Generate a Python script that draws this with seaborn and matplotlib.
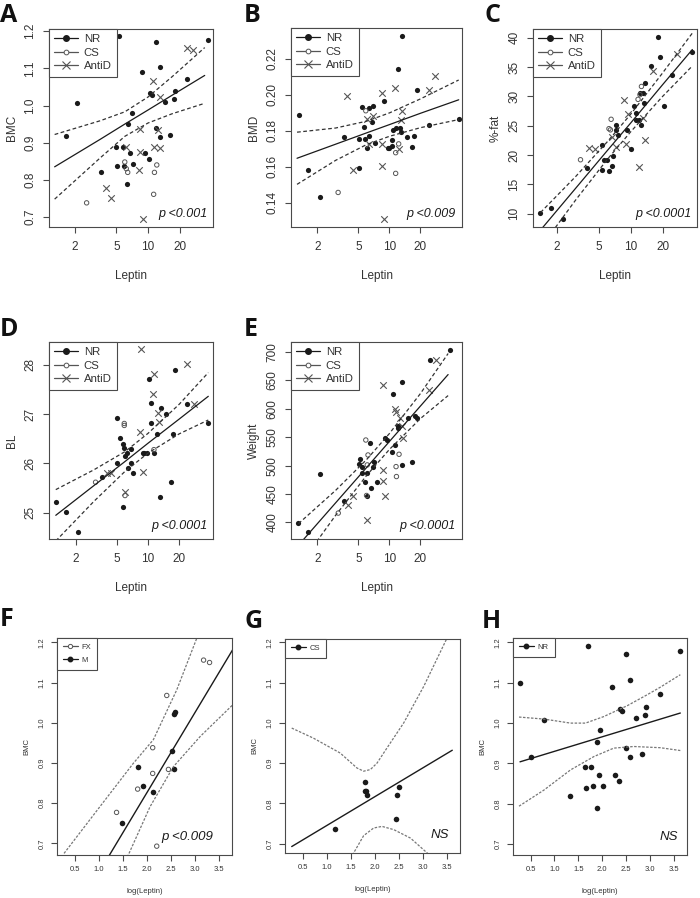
import matplotlib
matplotlib.use("Agg")
import matplotlib.pyplot as plt
from matplotlib.lines import Line2D
from matplotlib.ticker import NullLocator
import seaborn as sns

# ---------------- Panel A : BMC vs Leptin ----------------
a_nr_lep = [1.64, 2.10, 5.29, 12.0, 13.1, 8.8, 10.5, 10.8, 14.6, 18.2, 17.5, 23.5, 37.2, 7.0,
            6.4, 11.9, 13.0, 16.3, 3.6, 5.1, 5.0, 5.8, 6.8, 9.4, 7.2, 10.3, 5.9, 6.3]
a_nr_val = [0.918, 1.006, 1.186, 1.170, 1.105, 1.090, 1.035, 1.029, 1.009, 1.039, 1.017, 1.071,
            1.176, 0.979, 0.950, 0.939, 0.914, 0.920, 0.821, 0.838, 0.889, 0.889, 0.871, 0.871,
            0.842, 0.855, 0.838, 0.788]
a_cs_lep = [2.6, 6.0, 6.2, 6.4, 11.3, 11.5, 12.1]
a_cs_val = [0.738, 0.848, 0.830, 0.820, 0.761, 0.820, 0.840]
a_ad_lep = [3.95, 4.4, 8.9, 8.2, 8.3, 6.2, 8.3, 11.3, 12.9, 12.3, 11.2, 12.9, 23.5, 26.8]
a_ad_val = [0.778, 0.751, 0.695, 0.826, 0.876, 0.889, 0.936, 0.889, 0.886, 0.934, 1.067, 1.024,
            1.155, 1.149]
a_fit_lep = [1.29, 3.5, 6, 10, 17, 34.6]
a_fit = [0.835, 0.909, 0.950, 0.988, 1.028, 1.081]
a_upper = [0.922, 0.959, 0.983, 1.023, 1.078, 1.156]
a_lower = [0.748, 0.859, 0.917, 0.953, 0.978, 1.006]

# ---------------- Panel B : BMD vs Leptin ----------------
b_nr_lep = [1.33, 1.64, 2.12, 3.60, 5.05, 5.1, 5.40, 5.73, 5.8, 6.03, 6.4, 6.4, 6.73, 6.98, 7.3,
            8.91, 9.59, 9.9, 10.5, 10.7, 10.9, 11.5, 12.1, 12.6, 13.2, 12.9, 14.9, 16.4, 17.5,
            18.4, 24.0, 47.0]
b_nr_val = [0.1884, 0.1579, 0.1428, 0.1763, 0.1593, 0.1752, 0.1930, 0.1822, 0.1752, 0.1705,
            0.1770, 0.1925, 0.1847, 0.1938, 0.1729, 0.1966, 0.1701, 0.1705, 0.1748, 0.1714,
            0.1804, 0.1813, 0.2142, 0.1813, 0.2325, 0.1791, 0.1763, 0.1711, 0.1768, 0.2025,
            0.1830, 0.1867]
b_cs_lep = [3.18, 5.9, 11.5, 11.5, 12.3]
b_cs_val = [0.1456, 0.1910, 0.1677, 0.1562, 0.1726]
b_ad_lep = [3.88, 4.43, 6.0, 6.3, 6.9, 8.4, 8.4, 8.5, 8.9, 11.3, 12.3, 13.1, 12.9, 24.0, 27.5]
b_ad_val = [0.1990, 0.1580, 0.1865, 0.1726, 0.1880, 0.2008, 0.1603, 0.1726, 0.1309, 0.2036,
            0.1698, 0.1910, 0.1856, 0.2023, 0.2101]
b_fit_lep = [1.27, 3, 6, 10, 20, 47]
b_fit = [0.1646, 0.1724, 0.1787, 0.1833, 0.1896, 0.1971]
b_upper = [0.1791, 0.1814, 0.1852, 0.1898, 0.1976, 0.2081]
b_lower = [0.1501, 0.1634, 0.1722, 0.1768, 0.1816, 0.1861]

# ---------------- Panel C : %-fat vs Leptin ----------------
c_nr_lep = [1.39, 1.73, 2.25, 3.80, 5.27, 5.38, 5.58, 5.97, 6.23, 6.65, 6.7, 7.2, 7.16, 7.59,
            9.24, 9.93, 10.7, 11.2, 11.3, 11.9, 12.6, 12.2, 12.9, 13.6, 13.4, 15.4, 18.2, 18.9,
            20.7, 24.7, 38.3]
c_nr_val = [10.2, 10.9, 9.1, 17.8, 21.8, 17.4, 19.2, 19.2, 17.2, 18.1, 19.8, 25.2, 24.3, 23.5,
            24.2, 21.0, 28.4, 26.0, 27.2, 25.9, 25.2, 30.5, 30.6, 32.3, 28.8, 35.2, 40.1, 36.8,
            28.3, 33.6, 37.6]
c_cs_lep = [3.33, 6.2, 6.4, 6.5, 12.2, 12.6, 11.7]
c_cs_val = [19.2, 24.5, 24.3, 26.1, 30.3, 31.7, 29.5]
c_ad_lep = [4.03, 4.55, 7.3, 8.6, 8.9, 9.3, 11.9, 13.6, 16.1, 27.2, 12.9, 6.6]
c_ad_val = [21.2, 21.1, 21.4, 29.4, 21.9, 27.0, 18.0, 22.5, 34.3, 37.3, 26.3, 23.1]
c_fit_lep = [1.39, 3, 6, 10, 20, 38.3]
c_fit = [7.2, 14.35, 20.8, 25.5, 32.0, 38.0]
c_upper = [10.2, 16.35, 22.3, 27.0, 34.0, 40.8]
c_lower = [4.2, 12.35, 19.3, 24.0, 30.0, 35.2]

# ---------------- Panel D : BL vs Leptin ----------------
d_nr_lep = [1.29, 1.61, 2.09, 3.56, 4.97, 4.97, 5.35, 5.7, 5.9, 5.7, 6.02, 6.3, 6.44, 6.8, 6.9,
            7.2, 8.86, 9.2, 9.7, 10.3, 10.8, 10.6, 11.4, 12.1, 13.0, 13.3, 14.8, 16.5, 17.5,
            18.4, 23.9, 38.1]
d_nr_val = [25.22, 25.02, 24.62, 25.72, 26.01, 26.92, 26.52, 26.40, 26.31, 25.12, 26.15, 26.21,
            25.91, 26.01, 26.30, 25.81, 26.21, 26.21, 26.21, 27.71, 27.22, 26.81, 26.21, 26.60,
            25.32, 27.12, 27.00, 25.62, 26.60, 27.90, 27.21, 26.81]
d_cs_lep = [3.12, 5.9, 5.9, 6.0, 11.4]
d_cs_val = [25.62, 26.81, 26.77, 25.35, 26.28]
d_ad_lep = [3.98, 4.4, 6.0, 8.36, 8.5, 9.0, 11.4, 11.2, 12.4, 12.8, 23.9, 27.8]
d_ad_val = [25.81, 25.80, 25.42, 26.63, 28.32, 25.82, 27.82, 27.41, 27.02, 26.83, 28.01, 27.21]
d_fit_lep = [1.29, 3, 6, 10, 20, 38.1]
d_fit = [24.95, 25.55, 26.04, 26.41, 26.90, 27.36]
d_upper = [25.47, 25.87, 26.24, 26.61, 27.20, 27.84]
d_lower = [24.43, 25.23, 25.84, 26.21, 26.60, 26.88]

# ---------------- Panel E : Weight vs Leptin ----------------
e_nr_lep = [1.31, 1.64, 2.12, 3.65, 5.17, 5.10, 5.37, 5.40, 5.78, 6.0, 6.1, 6.47, 6.6, 6.97, 7.1,
            7.5, 9.03, 9.5, 10.6, 10.8, 11.3, 12.1, 12.2, 13.3, 13.1, 15.2, 16.7, 17.9, 18.7,
            24.6, 38.4]
e_nr_val = [398.8, 383.0, 484.8, 436.8, 511.1, 502.9, 486.5, 497.1, 470.8, 486.5, 445.6, 540.3,
            461.4, 497.1, 506.4, 471.9, 548.0, 545.0, 524.6, 625.7, 536.3, 566.7, 569.6, 647.4,
            501.2, 583.0, 505.8, 587.1, 583.0, 685.4, 702.9]
e_cs_lep = [3.19, 5.9, 6.2, 6.1, 6.0, 11.6, 11.7, 12.4]
e_cs_val = [416.4, 545.0, 518.7, 501.2, 447.4, 498.2, 480.7, 519.9]
e_ad_lep = [3.99, 4.4, 6.1, 8.57, 8.57, 9.0, 8.6, 11.3, 11.6, 12.6, 13.1, 13.4, 24.2, 28.1]
e_ad_val = [429.8, 445.6, 404.7, 492.4, 473.1, 446.8, 641.5, 598.8, 593.6, 583.0, 569.6, 548.0,
            632.7, 685.4]
e_fit_lep = [1.31, 3, 6, 10, 20, 37.1]
e_fit = [359.7, 434.2, 496.5, 542.4, 604.8, 660.2]
e_upper = [397.7, 456.2, 510.5, 556.4, 626.8, 697.2]
e_lower = [321.7, 412.2, 482.5, 528.4, 582.8, 623.2]

# ---------------- Panel F : BMC vs log(Leptin), FX / M ----------------
f_fx_x = [1.372, 1.812, 2.126, 2.126, 2.419, 2.454, 2.21, 3.187, 3.312]
f_fx_y = [0.777, 0.835, 0.938, 0.874, 1.068, 0.884, 0.693, 1.156, 1.150]
f_m_x = [1.491, 1.826, 1.931, 2.14, 2.524, 2.566, 2.573, 2.60]
f_m_y = [0.751, 0.891, 0.843, 0.827, 0.931, 0.884, 1.022, 1.026]
f_fit_x = [1.2, 3.815]
f_fit_y = [0.666, 1.186]
f_upper_x = [0.277, 1.023, 1.721, 2.14, 2.628, 3.047, 3.3]
f_upper_y = [0.675, 0.791, 0.899, 0.958, 1.082, 1.211, 1.30]
f_lower_x = [1.45, 1.617, 2.07, 2.559, 3.117, 3.815]
f_lower_y = [0.63, 0.671, 0.791, 0.891, 0.966, 1.047]

# ---------------- Panel G : BMC vs log(Leptin), CS ----------------
g_cs_x = [1.163, 1.791, 1.791, 1.812, 1.84, 2.447, 2.468, 2.517]
g_cs_y = [0.737, 0.854, 0.830, 0.832, 0.822, 0.761, 0.822, 0.840]
g_fit_x = [0.27, 3.619]
g_fit_y = [0.693, 0.932]
g_upper_x = [0.27, 0.723, 1.282, 1.63, 1.77, 1.91, 2.049, 2.259, 2.607, 3.026, 3.50, 3.6]
g_upper_y = [0.987, 0.962, 0.925, 0.888, 0.880, 0.884, 0.900, 0.938, 1.0, 1.091, 1.208, 1.23]
g_lower_x = [1.45, 1.561, 1.77, 1.979, 2.154, 2.398, 2.747, 3.096, 3.2]
g_lower_y = [0.655, 0.677, 0.720, 0.739, 0.743, 0.735, 0.714, 0.677, 0.665]

# ---------------- Panel H : BMC vs log(Leptin), NR ----------------
h_nr_x = [0.277, 0.5, 0.779, 1.323, 1.631, 1.665, 1.70, 1.756, 1.805, 1.882, 1.882, 1.93, 1.965,
          2.014, 2.21, 2.28, 2.363, 2.384, 2.42, 2.496, 2.503, 2.594, 2.594, 2.712, 2.894, 2.928,
          2.838, 3.208, 3.64]
h_nr_y = [1.099, 0.917, 1.008, 0.819, 0.892, 0.838, 1.190, 0.892, 0.844, 0.952, 0.789, 0.871,
          0.984, 0.844, 1.089, 0.871, 0.856, 1.034, 1.029, 0.939, 1.172, 1.107, 0.915, 1.012,
          1.020, 1.039, 0.924, 1.073, 1.178]
h_fit_x = [0.277, 3.64]
h_fit_y = [0.904, 1.025]
h_upper_x = [0.256, 0.779, 1.337, 1.65, 2.03, 2.524, 2.94, 3.22, 3.64]
h_upper_y = [1.015, 1.01, 1.0, 1.0, 1.016, 1.043, 1.07, 1.089, 1.12]
h_lower_x = [0.256, 0.779, 1.337, 1.826, 2.245, 2.663, 3.22, 3.64]
h_lower_y = [0.794, 0.834, 0.884, 0.917, 0.938, 0.942, 0.939, 0.932]

leptin_ticks = [2, 5, 10, 20]
log_ticks = [0.5, 1.0, 1.5, 2.0, 2.5, 3.0, 3.5]
bmc_ticks = [0.7, 0.8, 0.9, 1.0, 1.1, 1.2]

INK = "#1a1a1a"
GREY = "#555555"
FRAME = "#4a4a4a"
TXT = "#333333"

sns.set_style("white")
plt.rcParams["font.family"] = ["Liberation Sans", "DejaVu Sans"]


def r_frame(ax, size, xpad, ypad):
    for s in ax.spines.values():
        s.set_visible(True)
        s.set_color(FRAME)
        s.set_linewidth(0.8)
    ax.tick_params(direction="out", length=4, width=0.8, color=FRAME,
                   labelcolor=TXT, labelsize=size, bottom=True, left=True)
    ax.tick_params(axis="x", pad=xpad)
    ax.tick_params(axis="y", pad=ypad, labelrotation=90)
    for lab in ax.get_yticklabels():
        lab.set_va("center")


def points(ax, x, y, kind, s_big=14):
    if kind == "filled":
        sns.scatterplot(x=x, y=y, ax=ax, color=INK, marker="o", s=s_big, linewidth=0)
    elif kind == "open":
        sns.scatterplot(x=x, y=y, ax=ax, color=GREY, marker="o", s=10, linewidth=0.7)
        ax.collections[-1].set_facecolor("none")
        ax.collections[-1].set_edgecolor(GREY)
    else:
        sns.scatterplot(x=x, y=y, ax=ax, color=GREY, marker="x", s=22, linewidth=0.8)


def handle(kind, ms):
    if kind == "filled":
        return Line2D([], [], color=INK, marker="o", markersize=ms, markerfacecolor=INK, lw=0.9)
    if kind == "open":
        return Line2D([], [], color=GREY, marker="o", markersize=ms * 0.85,
                      markerfacecolor="white", markeredgewidth=0.7, lw=0.9)
    return Line2D([], [], color=GREY, marker="x", markersize=ms * 1.3, lw=0.9, markeredgewidth=0.8)


def boxed_legend(ax, handles, labels, size, hl, pad, spacing):
    leg = ax.legend(handles, labels, loc="upper left", bbox_to_anchor=(0, 1), borderaxespad=0,
                    fontsize=size, handlelength=hl, handletextpad=0.5, labelspacing=spacing,
                    borderpad=pad, fancybox=False, framealpha=1, edgecolor=FRAME, numpoints=1)
    leg.get_frame().set_linewidth(0.8)
    for t in leg.get_texts():
        t.set_color(TXT)


def leptin_panel(ax, groups, fit_lep, fit, upper, lower, xlim, ylim, yticks, ylabels,
                 ylabel, ptext):
    for x, y, kind in groups:
        points(ax, x, y, kind)
    sns.lineplot(x=fit_lep, y=fit, ax=ax, color=INK, linewidth=0.9)
    for band in (upper, lower):
        sns.lineplot(x=fit_lep, y=band, ax=ax, color="#333333", linewidth=0.9,
                     linestyle=(0, (3, 2)))
    ax.set_xscale("log")
    ax.set_xlim(*xlim)
    ax.set_ylim(*ylim)
    ax.set_xticks(leptin_ticks)
    ax.set_xticklabels([str(t) for t in leptin_ticks])
    ax.xaxis.set_minor_locator(NullLocator())
    ax.set_yticks(yticks)
    ax.set_yticklabels(ylabels)
    r_frame(ax, 8.5, 6, 5)
    ax.set_xlabel("Leptin", fontsize=8.5, color=TXT, labelpad=12)
    ax.set_ylabel(ylabel, fontsize=8.5, color=TXT, labelpad=5)
    boxed_legend(ax, [handle("filled", 4), handle("open", 4), handle("x", 4)],
                 ["NR", "CS", "AntiD"], 8.2, 2.1, 0.45, 0.32)
    ax.text(0.965, 0.035, ptext, transform=ax.transAxes, ha="right", va="bottom",
            fontsize=9, style="italic", color=INK)


def log_panel(ax, groups, labels, fit_x, fit_y, upper, lower, ylim, ptext, px):
    for x, y, kind in groups:
        points(ax, x, y, kind, s_big=16)
    sns.lineplot(x=fit_x, y=fit_y, ax=ax, color=INK, linewidth=1.0)
    for bx, by in (upper, lower):
        sns.lineplot(x=bx, y=by, ax=ax, color="#777777", linewidth=0.9, linestyle=(0, (2, 1.2)))
    ax.set_xlim(0.13, 3.78)
    ax.set_ylim(*ylim)
    ax.set_xticks(log_ticks)
    ax.set_xticklabels([f"{t:.1f}" for t in log_ticks])
    ax.set_yticks(bmc_ticks)
    ax.set_yticklabels([f"{t:.1f}" for t in bmc_ticks])
    r_frame(ax, 5.5, 4, 4)
    ax.set_xlabel("log(Leptin)", fontsize=5.5, color=TXT, labelpad=11)
    ax.set_ylabel("BMC", fontsize=5.5, color=TXT, labelpad=6)
    boxed_legend(ax, [handle(kind, 3.2) if kind != "open" else handle("open", 3.6)
                      for _, _, kind in groups], labels, 5.5, 2.0, 0.75, 0.7)
    ax.text(px, 0.055, ptext, transform=ax.transAxes, ha="right", va="bottom",
            fontsize=9.5, style="italic", color=INK)


fig = plt.figure(figsize=(7, 8.98), dpi=100)
W, H = 700.0, 898.0


def axes_px(left, right, top, bottom):
    return fig.add_axes([left / W, 1 - bottom / H, (right - left) / W, (bottom - top) / H])


ax_a = axes_px(49, 213, 29, 227)
ax_b = axes_px(291, 462, 28, 227)
ax_c = axes_px(533, 697, 29, 227)
ax_d = axes_px(49, 213, 342, 539)
ax_e = axes_px(291, 462, 342, 539)
ax_f = axes_px(57, 232, 638, 855)
ax_g = axes_px(285, 460, 639, 853)
ax_h = axes_px(513, 687, 638, 855)

leptin_panel(ax_a, [(a_nr_lep, a_nr_val, "filled"), (a_cs_lep, a_cs_val, "open"),
                    (a_ad_lep, a_ad_val, "x")],
             a_fit_lep, a_fit, a_upper, a_lower, (1.14, 41.5), (0.673, 1.206),
             bmc_ticks, ["0.7", "0.8", "0.9", "1.0", "1.1", "1.2"], "BMC", "p <0.001")

leptin_panel(ax_b, [(b_nr_lep, b_nr_val, "filled"), (b_cs_lep, b_cs_val, "open"),
                    (b_ad_lep, b_ad_val, "x")],
             b_fit_lep, b_fit, b_upper, b_lower, (1.11, 50.6), (0.1264, 0.237),
             [0.14, 0.16, 0.18, 0.20, 0.22], ["0.14", "0.16", "0.18", "0.20", "0.22"],
             "BMD", "p <0.009")

leptin_panel(ax_c, [(c_nr_lep, c_nr_val, "filled"), (c_cs_lep, c_cs_val, "open"),
                    (c_ad_lep, c_ad_val, "x")],
             c_fit_lep, c_fit, c_upper, c_lower, (1.18, 42.4), (7.73, 41.5),
             [10, 15, 20, 25, 30, 35, 40], ["10", "15", "20", "25", "30", "35", "40"],
             "%-fat", "p <0.0001")

leptin_panel(ax_d, [(d_nr_lep, d_nr_val, "filled"), (d_cs_lep, d_cs_val, "open"),
                    (d_ad_lep, d_ad_val, "x")],
             d_fit_lep, d_fit, d_upper, d_lower, (1.11, 42.3), (24.47, 28.46),
             [25, 26, 27, 28], ["25", "26", "27", "28"], "BL", "p <0.0001")

leptin_panel(ax_e, [(e_nr_lep, e_nr_val, "filled"), (e_cs_lep, e_cs_val, "open"),
                    (e_ad_lep, e_ad_val, "x")],
             e_fit_lep, e_fit, e_upper, e_lower, (1.11, 50.6), (370.8, 717.5),
             [400, 450, 500, 550, 600, 650, 700],
             ["400", "450", "500", "550", "600", "650", "700"], "Weight", "p <0.0001")

log_panel(ax_f, [(f_fx_x, f_fx_y, "open"), (f_m_x, f_m_y, "filled")], ["FX", "M"],
          f_fit_x, f_fit_y, (f_upper_x, f_upper_y), (f_lower_x, f_lower_y),
          (0.671, 1.211), "p <0.009", 0.89)
log_panel(ax_g, [(g_cs_x, g_cs_y, "filled")], ["CS"],
          g_fit_x, g_fit_y, (g_upper_x, g_upper_y), (g_lower_x, g_lower_y),
          (0.677, 1.208), "NS", 0.94)
log_panel(ax_h, [(h_nr_x, h_nr_y, "filled")], ["NR"],
          h_fit_x, h_fit_y, (h_upper_x, h_upper_y), (h_lower_x, h_lower_y),
          (0.673, 1.211), "NS", 0.95)

for ax in (ax_a, ax_b, ax_c, ax_d, ax_e, ax_f, ax_g, ax_h):
    for lab in ax.get_yticklabels():
        lab.set_va("center")

letters = [("A", 0, 3), ("B", 244, 3), ("C", 484, 3), ("D", 0, 317), ("E", 244, 317),
           ("F", 0, 607), ("G", 244, 609), ("H", 482, 609)]
for letter, lx, ly in letters:
    fig.text(lx / W, 1 - ly / H, letter, ha="left", va="top", fontsize=18,
             fontweight="bold", family=["Open Sans", "DejaVu Sans"], color="#111111")

fig.savefig("out.png", dpi=100)
